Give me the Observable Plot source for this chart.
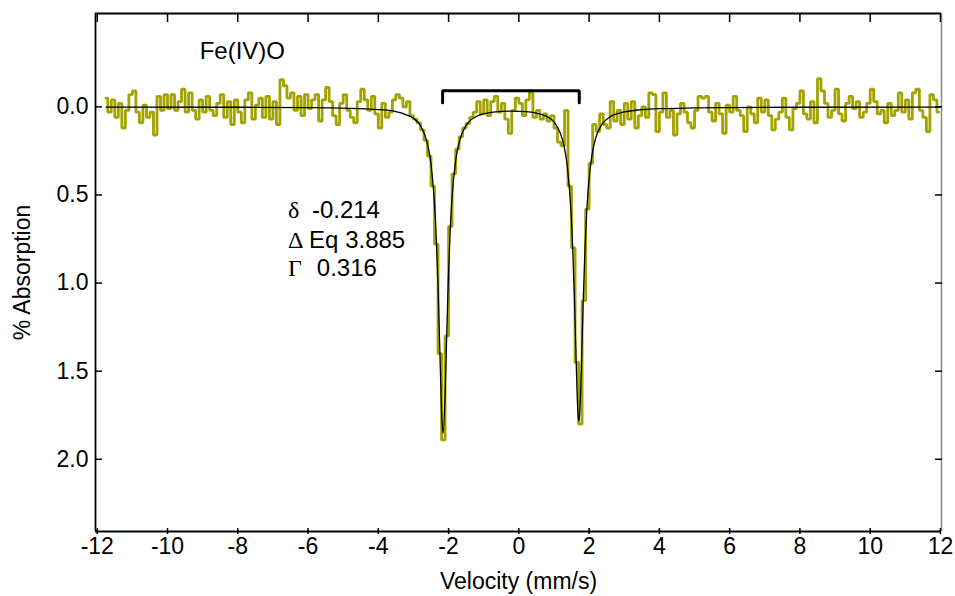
<!DOCTYPE html>
<html><head><meta charset="utf-8">
<script src="https://cdn.jsdelivr.net/npm/d3@7"></script>
<script src="https://cdn.jsdelivr.net/npm/@observablehq/plot@0.6"></script>
<style>body{margin:0;background:#fff} svg{display:block}</style>
</head><body><div id="chart"></div>
<script>
// Channel grid of the spectrum (mm/s)
const vStart = -11.75, vStep = 0.1;
const absorption = [
 -0.05,0.03,-0.04,0.06,-0.02,0.12,0.02,-0.07,-0.09,0.03,
 0.09,-0.01,0.06,0.03,0.16,-0.06,0.02,-0.07,0.01,-0.07,
 0.02,-0.03,-0.10,0.03,-0.08,0.02,0.07,-0.04,0.03,-0.06,
 0.02,0.05,-0.02,-0.07,0.06,-0.03,0.10,-0.04,0.03,0.09,
 -0.04,-0.08,0.07,-0.01,-0.05,0.06,-0.06,0.07,-0.03,0.10,
 -0.155,-0.12,-0.05,-0.08,0.02,-0.06,0.05,-0.07,0.01,-0.04,
 -0.07,0.08,-0.04,-0.11,-0.03,0.05,0.10,-0.02,-0.07,0.02,
 0.06,0.09,-0.03,-0.10,-0.04,0.02,-0.06,0.04,0.12,-0.02,
 0.06,0.03,-0.04,-0.07,-0.05,0.00,-0.03,0.05,0.07,0.09,
 0.13,0.19,0.28,0.45,0.78,1.40,1.89,1.30,0.68,0.38,
 0.24,0.17,0.12,0.095,0.06,0.03,-0.03,0.04,-0.04,0.05,
 -0.03,-0.06,0.03,-0.02,0.07,0.15,0.02,-0.05,-0.02,0.05,
 -0.04,-0.08,0.06,0.02,0.07,0.04,0.08,0.05,0.12,0.20,
 0.22,0.02,0.45,0.80,1.45,1.80,1.10,0.58,0.32,0.10,
 0.14,0.04,0.10,0.12,-0.03,0.08,0.02,0.10,-0.02,0.07,
 -0.03,0.12,0.05,0.00,0.06,-0.08,-0.07,0.14,0.03,-0.08,
 0.06,0.02,0.16,0.04,-0.02,0.03,0.09,0.12,0.02,-0.06,
 -0.05,-0.06,0.03,0.08,-0.02,0.04,0.15,-0.01,0.03,-0.06,
 0.02,0.05,0.14,0.00,0.04,0.09,-0.05,0.03,-0.04,0.05,
 0.13,0.07,0.03,-0.05,0.06,0.13,0.01,-0.02,-0.09,0.04,
 0.07,-0.03,0.09,-0.16,-0.09,-0.02,0.06,0.02,-0.10,0.04,
 0.08,-0.02,-0.06,0.01,-0.03,0.06,0.03,-0.02,-0.10,-0.03,
 0.04,0.02,0.09,-0.02,0.05,0.02,-0.08,0.03,-0.04,0.07,
 -0.08,-0.10,0.02,0.06,0.14,-0.07,-0.04,0.03
];
// Fitted quadrupole doublet
const fitVelocity = [-11.75,-8,-6,-5,-4,-3.5,-3.2,-3.0,-2.8,-2.6,-2.5,-2.4,-2.35,-2.3,-2.25,-2.2,-2.157,-2.1,-2.05,-2.0,-1.95,-1.9,-1.8,-1.7,-1.5,-1.2,-1.0,-0.5,-0.2,0.2,0.5,0.8,1.0,1.18,1.28,1.38,1.48,1.53,1.58,1.63,1.68,1.708,1.73,1.78,1.83,1.88,1.93,1.98,2.08,2.18,2.38,2.58,3.0,3.5,4.0,5.0,6.0,8.0,12.0];
const fitAbsorption = [0.001,0.002,0.004,0.007,0.015,0.027,0.045,0.065,0.107,0.211,0.326,0.552,0.744,1.019,1.376,1.724,1.853,1.640,1.271,0.934,0.684,0.511,0.306,0.201,0.105,0.054,0.040,0.026,0.024,0.027,0.036,0.055,0.085,0.150,0.217,0.339,0.581,0.788,1.079,1.435,1.730,1.783,1.749,1.477,1.118,0.818,0.601,0.452,0.275,0.182,0.095,0.059,0.029,0.016,0.010,0.006,0.004,0.002,0.001];
const xTicks = [-12,-10,-8,-6,-4,-2,0,2,4,6,8,10,12];
const yTicks = [0, 0.5, 1.0, 1.5, 2.0];
const xDomain = [-12.05, 12.03];
const yDomain = [-0.53, 2.41];
// Doublet bracket
const bracketV = [-2.17, -2.17, 1.72, 1.72];
const bracketA = [-0.023, -0.091, -0.091, -0.023];
// Annotations
const sampleLabel = "Fe(IV)O";
const paramSymbols = ["δ", "Δ", "Γ"];
const paramTexts = ["-0.214", "Eq 3.885", "0.316"];
const paramTextV = [-5.89, -5.97, -5.75];
const paramRowA = [0.586, 0.757, 0.918];

const spectrum = absorption.map((a, i) => ({v: vStart + i * vStep, a}));
const fit = fitVelocity.map((v, i) => ({v, a: fitAbsorption[i]}));
const bracket = bracketV.map((v, i) => ({v, a: bracketA[i]}));
const params = paramSymbols.map((s, i) => ({s, t: paramTexts[i], tv: paramTextV[i], a: paramRowA[i]}));

const blank = () => "";
const plain = d => String(d);
const chart = Plot.plot({
  width: 955, height: 596,
  marginLeft: 95, marginRight: 14, marginTop: 13, marginBottom: 65,
  x: {domain: xDomain},
  y: {domain: yDomain, reverse: true},
  style: {fontFamily: "'Liberation Sans', Arial, sans-serif", fontSize: "23px", color: "black", background: "white"},
  marks: [
    Plot.line(spectrum, {x: "v", y: "a", curve: "step", stroke: "#a3a300", strokeWidth: 2.8, strokeLinejoin: "miter"}),
    Plot.line(fit, {x: "v", y: "a", curve: "monotone-x", stroke: "black", strokeWidth: 1.3}),
    Plot.line(bracket, {x: "v", y: "a", stroke: "black", strokeWidth: 3, strokeLinejoin: "miter"}),
    Plot.text([sampleLabel], {x: -7.87, y: -0.317, text: d => d, fontSize: 24, textAnchor: "middle"}),
    Plot.text(params, {x: -6.57, y: "a", text: "s", fontSize: 24, textAnchor: "start", fontFamily: "'Liberation Serif', 'DejaVu Serif', serif"}),
    Plot.text(params, {x: "tv", y: "a", text: "t", fontSize: 24, textAnchor: "start"}),
    Plot.ruleX([xDomain[0]], {stroke: "black", strokeWidth: 1.8}),
    Plot.ruleX([xDomain[1]], {stroke: "#888", strokeWidth: 1.5}),
    Plot.ruleY([yDomain[0]], {stroke: "black", strokeWidth: 1.8}),
    Plot.ruleY([yDomain[1]], {stroke: "black", strokeWidth: 1.8}),
    Plot.axisY(yTicks, {anchor: "left", tickSize: 0, tickPadding: 7, tickFormat: d3.format(".1f"), fontSize: 23, label: "% Absorption", labelAnchor: "center", labelOffset: 82, labelArrow: "none"}),
    Plot.axisY(yTicks, {anchor: "left", tickSize: -7, tickFormat: blank, label: null, strokeWidth: 1.5}),
    Plot.axisY(yTicks, {anchor: "right", tickSize: -7, tickFormat: blank, label: null, strokeWidth: 1.5}),
    Plot.axisX(xTicks, {anchor: "bottom", tickSize: 3, tickPadding: 3, tickFormat: plain, fontSize: 23, label: "Velocity (mm/s)", labelAnchor: "center", labelOffset: 57, labelArrow: "none", strokeWidth: 1.5}),
    Plot.axisX(xTicks, {anchor: "bottom", tickSize: -3, tickFormat: blank, label: null, strokeWidth: 1.5}),
    Plot.axisX(xTicks, {anchor: "top", tickSize: -8, tickFormat: blank, label: null, strokeWidth: 1.5})
  ]
});
document.getElementById("chart").append(chart);
</script>
</body></html>
